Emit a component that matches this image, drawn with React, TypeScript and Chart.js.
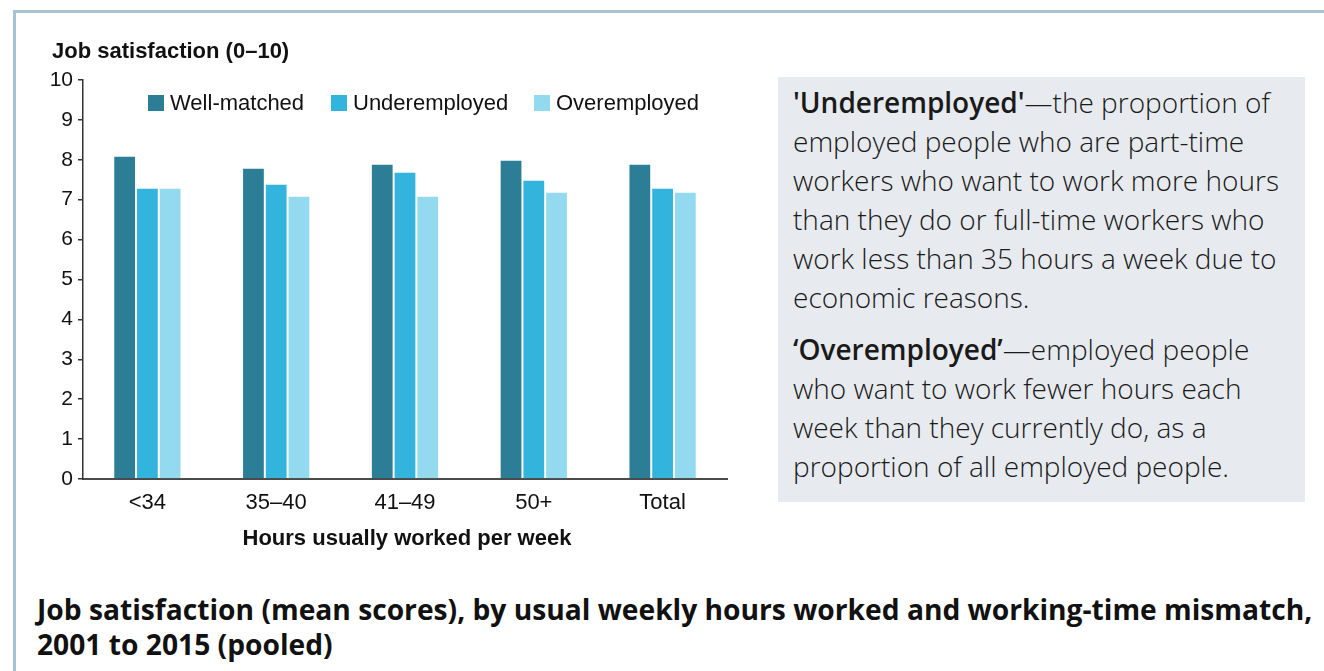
import React, { useEffect, useRef } from "react";
import { Chart, registerables } from "chart.js";

Chart.register(...registerables);

const categories = ["<34", "35–40", "41–49", "50+", "Total"];
const wellMatched = [8.1, 7.8, 7.9, 8.0, 7.9];
const underemployed = [7.3, 7.4, 7.7, 7.5, 7.3];
const overemployed = [7.3, 7.1, 7.1, 7.2, 7.2];
const seriesNames = ["Well-matched", "Underemployed", "Overemployed"];
const seriesColors = ["#2c7d96", "#33b4dc", "#93d9f0"];
const yTicks = [0, 1, 2, 3, 4, 5, 6, 7, 8, 9, 10];

const ARIAL = "'Liberation Sans', Arial, sans-serif";
const OPEN = "'Open Sans', sans-serif";

export default function App() {
  const canvasRef = useRef<HTMLCanvasElement | null>(null);

  useEffect(() => {
    if (!canvasRef.current) return;
    const values = [wellMatched, underemployed, overemployed];
    const chart = new Chart(canvasRef.current, {
      type: "bar",
      data: {
        labels: categories,
        datasets: seriesNames.map((name, i) => ({
          label: name,
          data: values[i],
          backgroundColor: seriesColors[i],
          borderColor: "rgba(255,255,255,0.45)",
          borderWidth: 1,
          borderSkipped: "bottom",
          categoryPercentage: 0.53,
          barPercentage: 1,
        })),
      },
      options: {
        responsive: false,
        animation: false,
        layout: { padding: { top: 80, right: 33, left: 0, bottom: 0 } },
        plugins: {
          legend: { display: false },
          title: { display: false },
          tooltip: { enabled: false },
        },
        scales: {
          x: {
            afterFit: (scale: any) => {
              scale.height = 51;
            },
            grid: { display: false, drawTicks: false },
            border: { display: true, color: "#4a4a4a", width: 2 },
            ticks: {
              color: "#111",
              font: { family: ARIAL, size: 22 },
              padding: 11,
              maxRotation: 0,
            },
          },
          y: {
            min: 0,
            max: 10,
            afterFit: (scale: any) => {
              scale.width = 83;
            },
            afterBuildTicks: (scale: any) => {
              scale.ticks = yTicks.map((v) => ({ value: v }));
            },
            grid: {
              display: true,
              drawOnChartArea: false,
              drawTicks: true,
              tickLength: 5,
              color: "#333",
              lineWidth: 1.5,
            },
            border: { display: true, color: "#333", width: 1.5 },
            ticks: {
              color: "#111",
              font: { family: ARIAL, size: 21 },
              padding: 5,
            },
          },
        },
      },
    });
    return () => chart.destroy();
  }, []);

  const legendX = [148, 331, 534];

  return (
    <div
      style={{
        position: "absolute",
        left: 0,
        top: 0,
        width: 1324,
        height: 671,
        background: "#ffffff",
        overflow: "hidden",
      }}
    >
      <div
        style={{
          position: "absolute",
          left: 13,
          top: 10,
          width: 1324,
          height: 700,
          borderLeft: "3px solid #a4c5d1",
          borderTop: "3px solid #a4c5d1",
        }}
      />
      <canvas
        ref={canvasRef}
        width={760}
        height={530}
        style={{ position: "absolute", left: 0, top: 0, width: 760, height: 530 }}
      />
      <div
        style={{
          position: "absolute",
          left: 52,
          top: 38,
          font: `bold 22px ${ARIAL}`,
          lineHeight: "26px",
          color: "#111",
          whiteSpace: "nowrap",
        }}
      >
        Job satisfaction (0–10)
      </div>
      {seriesNames.map((name, i) => (
        <div
          key={name}
          style={{
            position: "absolute",
            left: legendX[i],
            top: 90,
            height: 26,
            display: "flex",
            alignItems: "center",
            whiteSpace: "nowrap",
            font: `22px ${ARIAL}`,
            color: "#111",
          }}
        >
          <span
            style={{
              display: "inline-block",
              width: 16,
              height: 16,
              background: seriesColors[i],
              marginRight: 6,
            }}
          />
          {name}
        </div>
      ))}
      <div
        style={{
          position: "absolute",
          left: 85,
          width: 644,
          top: 525,
          textAlign: "center",
          font: `bold 22px ${ARIAL}`,
          lineHeight: "26px",
          color: "#111",
          whiteSpace: "nowrap",
        }}
      >
        Hours usually worked per week
      </div>
      <div
        style={{
          position: "absolute",
          left: 778,
          top: 77,
          width: 527,
          height: 425,
          background: "#e7ebef",
          boxSizing: "border-box",
          padding: "6px 0 0 15px",
          fontFamily: OPEN,
          fontSize: 28,
          fontWeight: 300,
          lineHeight: "39px",
          color: "#1a1a1a",
          whiteSpace: "nowrap",
        }}
      >
        <div>
          <b style={{ fontWeight: 600 }}>'Underemployed'</b>—the proportion of
          <br />
          employed people who are part-time
          <br />
          workers who want to work more hours
          <br />
          than they do or full-time workers who
          <br />
          work less than 35 hours a week due to
          <br />
          economic reasons.
        </div>
        <div style={{ marginTop: 13 }}>
          <b style={{ fontWeight: 600 }}>‘Overemployed’</b>—employed people
          <br />
          who want to work fewer hours each
          <br />
          week than they currently do, as a
          <br />
          proportion of all employed people.
        </div>
      </div>
      <div
        style={{
          position: "absolute",
          left: 37,
          top: 592,
          fontFamily: OPEN,
          fontWeight: 700,
          fontSize: 28.2,
          lineHeight: "35px",
          color: "#111",
          whiteSpace: "nowrap",
        }}
      >
        Job satisfaction (mean scores), by usual weekly hours worked and working-time mismatch,
        <br />
        2001 to 2015 (pooled)
      </div>
    </div>
  );
}
